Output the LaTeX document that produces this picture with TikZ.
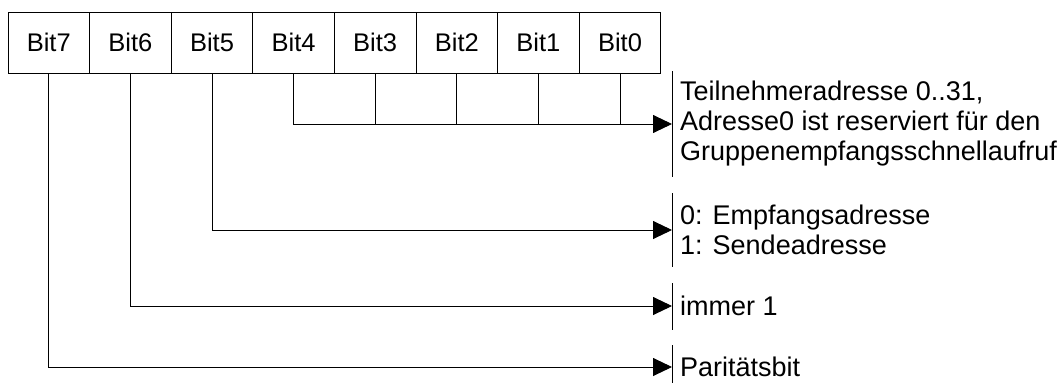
\documentclass[tikz,border=0pt]{standalone}
\usepackage{fontspec}
\setmainfont{Liberation Sans}
\usetikzlibrary{arrows.meta}
\begin{document}
\begin{tikzpicture}[x=1pt,y=-1pt,
  cell/.style={draw, line width=0.9pt, minimum width=81.6pt, minimum height=61pt,
    inner sep=0pt, font=\fontsize{25.5}{30}\selectfont},
  lbl/.style={anchor=west, align=left, inner sep=0pt, font=\fontsize{27}{30}\selectfont},
  wire/.style={line width=0.9pt},
  arr/.style={wire, -{Triangle[length=19pt,width=18pt]}},
  bar/.style={line width=0.9pt}]
\useasboundingbox (0,0) rectangle (1061,383);

% register cells
\foreach \i [count=\k from 0] in {7,6,5,4,3,2,1,0}
  \node[cell] (b\i) at ({8+81.6*(\k+0.5)},42.5) {Bit\i};

% arrow end points on the bars
\coordinate (p4) at (672,124);
\coordinate (p5) at (672,230);
\coordinate (p6) at (672,306);
\coordinate (p7) at (672,367);

% bars in front of the descriptions
\draw[bar] (672,71) -- (672,177);
\draw[bar] (672,193) -- (672,267);
\draw[bar] (672,283) -- (672,330);
\draw[bar] (672,345) -- (672,383);

% descriptions
\node[lbl] (t4) at (680,124) {Teilnehmeradresse 0..31,\\Adresse0 ist reserviert für den\\Gruppenempfangsschnellaufruf};
\node[lbl] (t5) at (680,230) {0: Empfangsadresse\\1: Sendeadresse};
\node[lbl] (t6) at (680,306) {immer 1};
\node[lbl] (t7) at (680,367) {Paritätsbit};

% connectors
\draw[arr] (b4.south) |- (p4);
\foreach \i in {3,2,1,0}
  \draw[wire] (b\i.south) -- (b\i.south |- p4);
\draw[arr] (b5.south) |- (p5);
\draw[arr] (b6.south) |- (p6);
\draw[arr] (b7.south) |- (p7);
\end{tikzpicture}
\end{document}
